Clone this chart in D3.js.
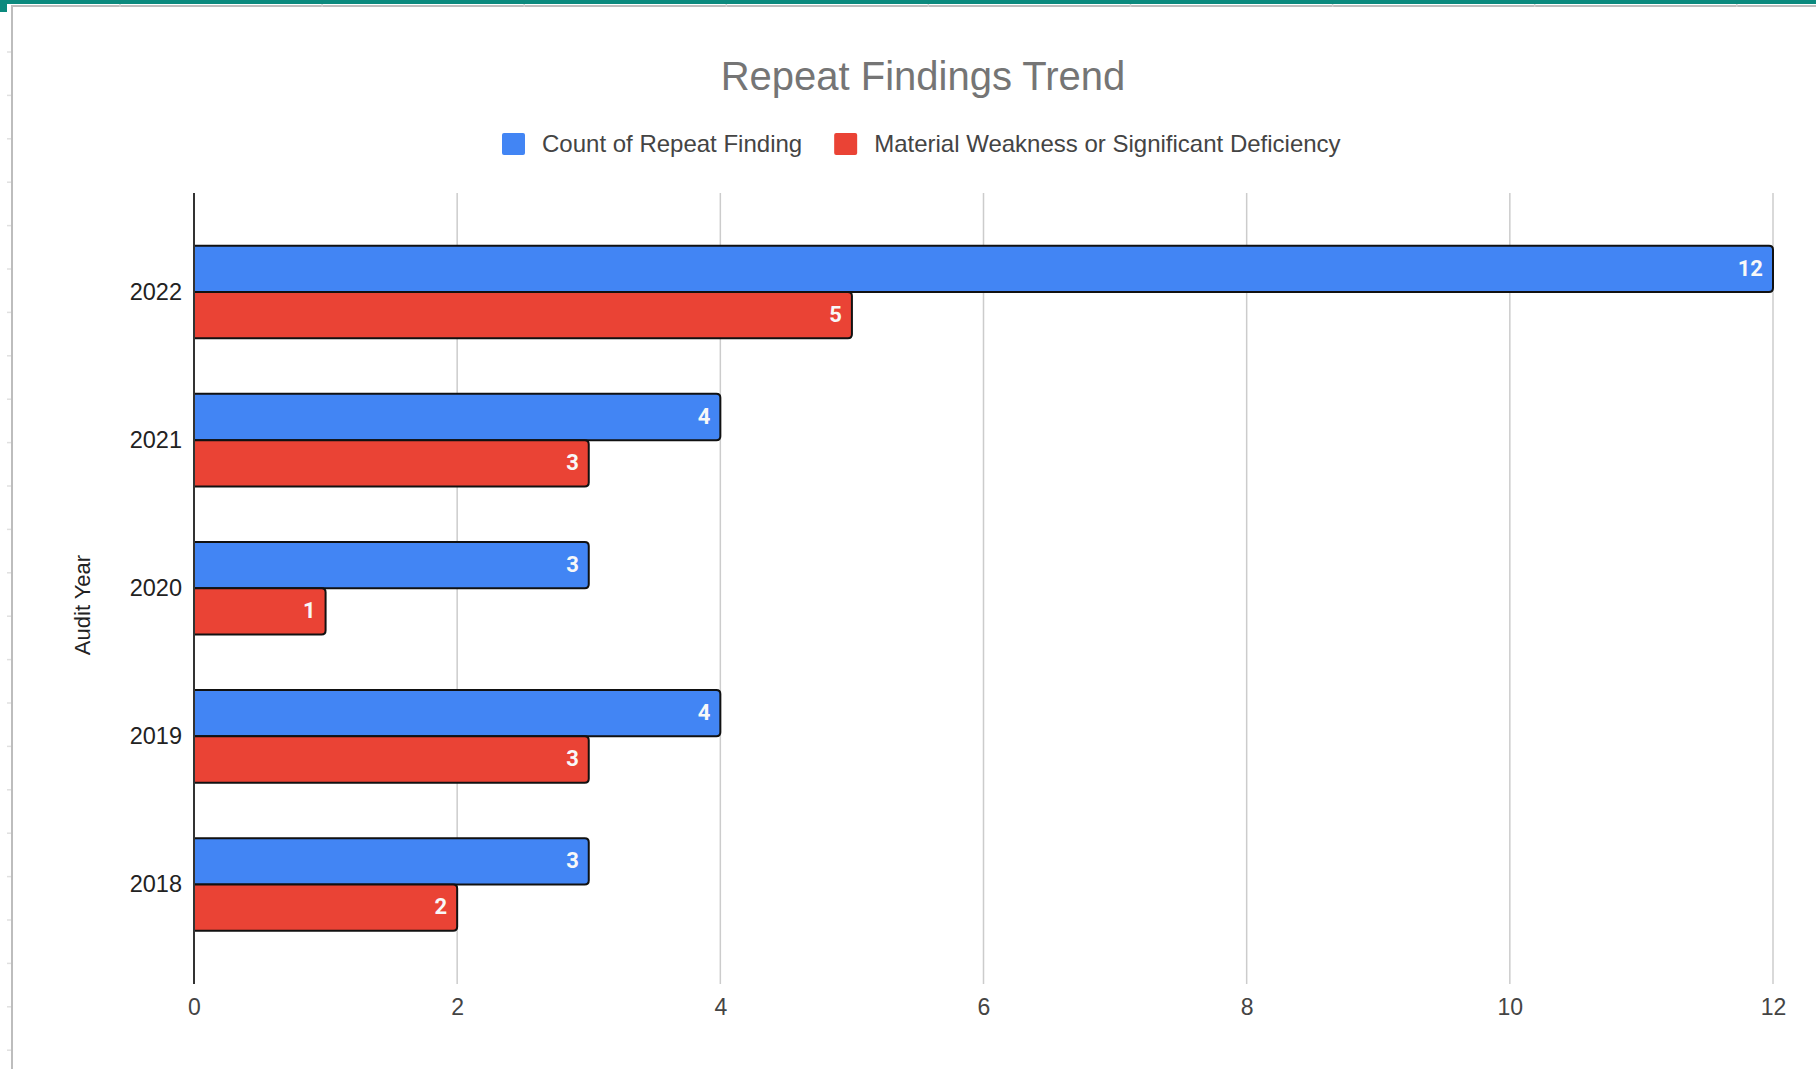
<!DOCTYPE html>
<html>
<head>
<meta charset="utf-8">
<script src="https://cdn.jsdelivr.net/npm/d3@7"></script>
<style>
  body { margin: 0; background: #fff; }
  svg { display: block; }
</style>
</head>
<body>
<svg id="chart" width="1816" height="1069"></svg>
<script>
// data
const years = ["2022", "2021", "2020", "2019", "2018"];
const repeatCounts = [12, 4, 3, 4, 3];
const weaknessCounts = [5, 3, 1, 3, 2];
const seriesNames = ["Count of Repeat Finding", "Material Weakness or Significant Deficiency"];
const seriesColors = ["#4285f4", "#ea4335"];
const xTicks = [0, 2, 4, 6, 8, 10, 12];

const width = 1816, height = 1069;
const svg = d3.select("#chart");

// sheet frame round the chart
svg.append("rect").attr("x", 0).attr("y", 0).attr("width", width).attr("height", 4).attr("fill", "#0b8a7e");
svg.append("rect").attr("x", 0).attr("y", 0).attr("width", 7).attr("height", 12).attr("fill", "#0b8a7e");
svg.append("line").attr("x1", 11).attr("x2", width).attr("y1", 6).attr("y2", 6)
    .attr("stroke", "#bdbdbd").attr("stroke-width", 2);
svg.append("line").attr("x1", 12).attr("x2", 12).attr("y1", 6).attr("y2", height)
    .attr("stroke", "#bdbdbd").attr("stroke-width", 2);
for (let yy = 52; yy < height; yy += 43.4) {
    svg.append("line").attr("x1", 7).attr("x2", 11).attr("y1", yy).attr("y2", yy)
        .attr("stroke", "#e0e0e0").attr("stroke-width", 1.5);
}
for (let xx = 120; xx < width; xx += 202.1) {
    svg.append("line").attr("x1", xx).attr("x2", xx).attr("y1", 4).attr("y2", 7)
        .attr("stroke", "#d0d0d0").attr("stroke-width", 1.5);
}

// scales
const plotTop = 193, plotBottom = 984;
const x = d3.scaleLinear().domain([0, 12]).range([194, 1773]);
const y = d3.scaleBand().domain(years).range([218, 958.5])
    .paddingInner(0.375).paddingOuter(0.1875);
const inner = d3.scaleBand().domain([0, 1]).range([0, y.bandwidth()]);

// title
svg.append("text")
    .attr("x", 923).attr("y", 90)
    .attr("text-anchor", "middle")
    .style("font-family", "'Liberation Sans', Arial, sans-serif")
    .style("font-size", "40px")
    .style("fill", "#757575")
    .text("Repeat Findings Trend");

// legend
let lx = 502;
seriesNames.forEach(function (name, i) {
    svg.append("rect")
        .attr("x", lx).attr("y", 133).attr("width", 23).attr("height", 22).attr("rx", 2)
        .attr("fill", seriesColors[i]);
    let t = svg.append("text")
        .attr("x", lx + 40).attr("y", 152)
        .style("font-family", "'Liberation Sans', Arial, sans-serif")
        .style("font-size", "24px")
        .style("fill", "#444")
        .text(name);
    lx += 40 + t.node().getComputedTextLength() + 32;
});

// grid lines
svg.append("g").selectAll("line")
    .data(xTicks.filter(function (d) { return d > 0; }))
    .enter().append("line")
    .attr("x1", function (d) { return x(d); })
    .attr("x2", function (d) { return x(d); })
    .attr("y1", plotTop).attr("y2", plotBottom)
    .attr("stroke", "#cccccc").attr("stroke-width", 1.5);

// bars
const rows = years.map(function (yr, i) {
    return { year: yr, values: [repeatCounts[i], weaknessCounts[i]] };
});

function barPath(x0, x1, y0, h) {
    const r = 4;
    return "M" + x0 + "," + y0 + "H" + (x1 - r) + "Q" + x1 + "," + y0 + " " + x1 + "," + (y0 + r) +
        "V" + (y0 + h - r) + "Q" + x1 + "," + (y0 + h) + " " + (x1 - r) + "," + (y0 + h) +
        "H" + x0 + "Z";
}

const groups = svg.append("g").selectAll("g")
    .data(rows)
    .enter().append("g")
    .attr("transform", function (d) { return "translate(0," + y(d.year) + ")"; });

groups.selectAll("path")
    .data(function (d) { return d.values.map(function (v, i) { return { v: v, i: i }; }); })
    .enter().append("path")
    .attr("d", function (d) { return barPath(x(0), x(d.v), inner(d.i), inner.bandwidth()); })
    .attr("fill", function (d) { return seriesColors[d.i]; })
    .attr("stroke", "#111")
    .attr("stroke-width", 2);

groups.selectAll("text")
    .data(function (d) { return d.values.map(function (v, i) { return { v: v, i: i }; }); })
    .enter().append("text")
    .attr("x", function (d) { return x(d.v) - 10; })
    .attr("y", function (d) { return inner(d.i) + inner.bandwidth() / 2; })
    .attr("dy", "0.3em")
    .attr("text-anchor", "end")
    .style("font-family", "Roboto, Arial, sans-serif")
    .style("font-weight", "700")
    .style("font-size", "22px")
    .style("fill", "#f8f8f8")
    .text(function (d) { return d.v; });

// zero line
svg.append("line")
    .attr("x1", x(0)).attr("x2", x(0)).attr("y1", plotTop).attr("y2", plotBottom)
    .attr("stroke", "#333").attr("stroke-width", 2);

// axes
const yAxis = svg.append("g")
    .attr("transform", "translate(" + x(0) + ",0)")
    .call(d3.axisLeft(y).tickSize(0).tickPadding(12));
yAxis.select(".domain").remove();
yAxis.selectAll("text")
    .style("font-family", "'Liberation Sans', Arial, sans-serif")
    .style("font-size", "23.5px")
    .style("fill", "#222");

const xAxis = svg.append("g")
    .attr("transform", "translate(0," + plotBottom + ")")
    .call(d3.axisBottom(x).tickValues(xTicks).tickSize(0).tickPadding(15));
xAxis.select(".domain").remove();
xAxis.selectAll("text")
    .style("font-family", "'Liberation Sans', Arial, sans-serif")
    .style("font-size", "23px")
    .style("fill", "#444");

// y axis title
svg.append("text")
    .attr("transform", "translate(82,605) rotate(-90)")
    .attr("text-anchor", "middle")
    .attr("dy", "0.35em")
    .style("font-family", "'Liberation Sans', Arial, sans-serif")
    .style("font-size", "22px")
    .style("fill", "#222")
    .text("Audit Year");
</script>
</body>
</html>
